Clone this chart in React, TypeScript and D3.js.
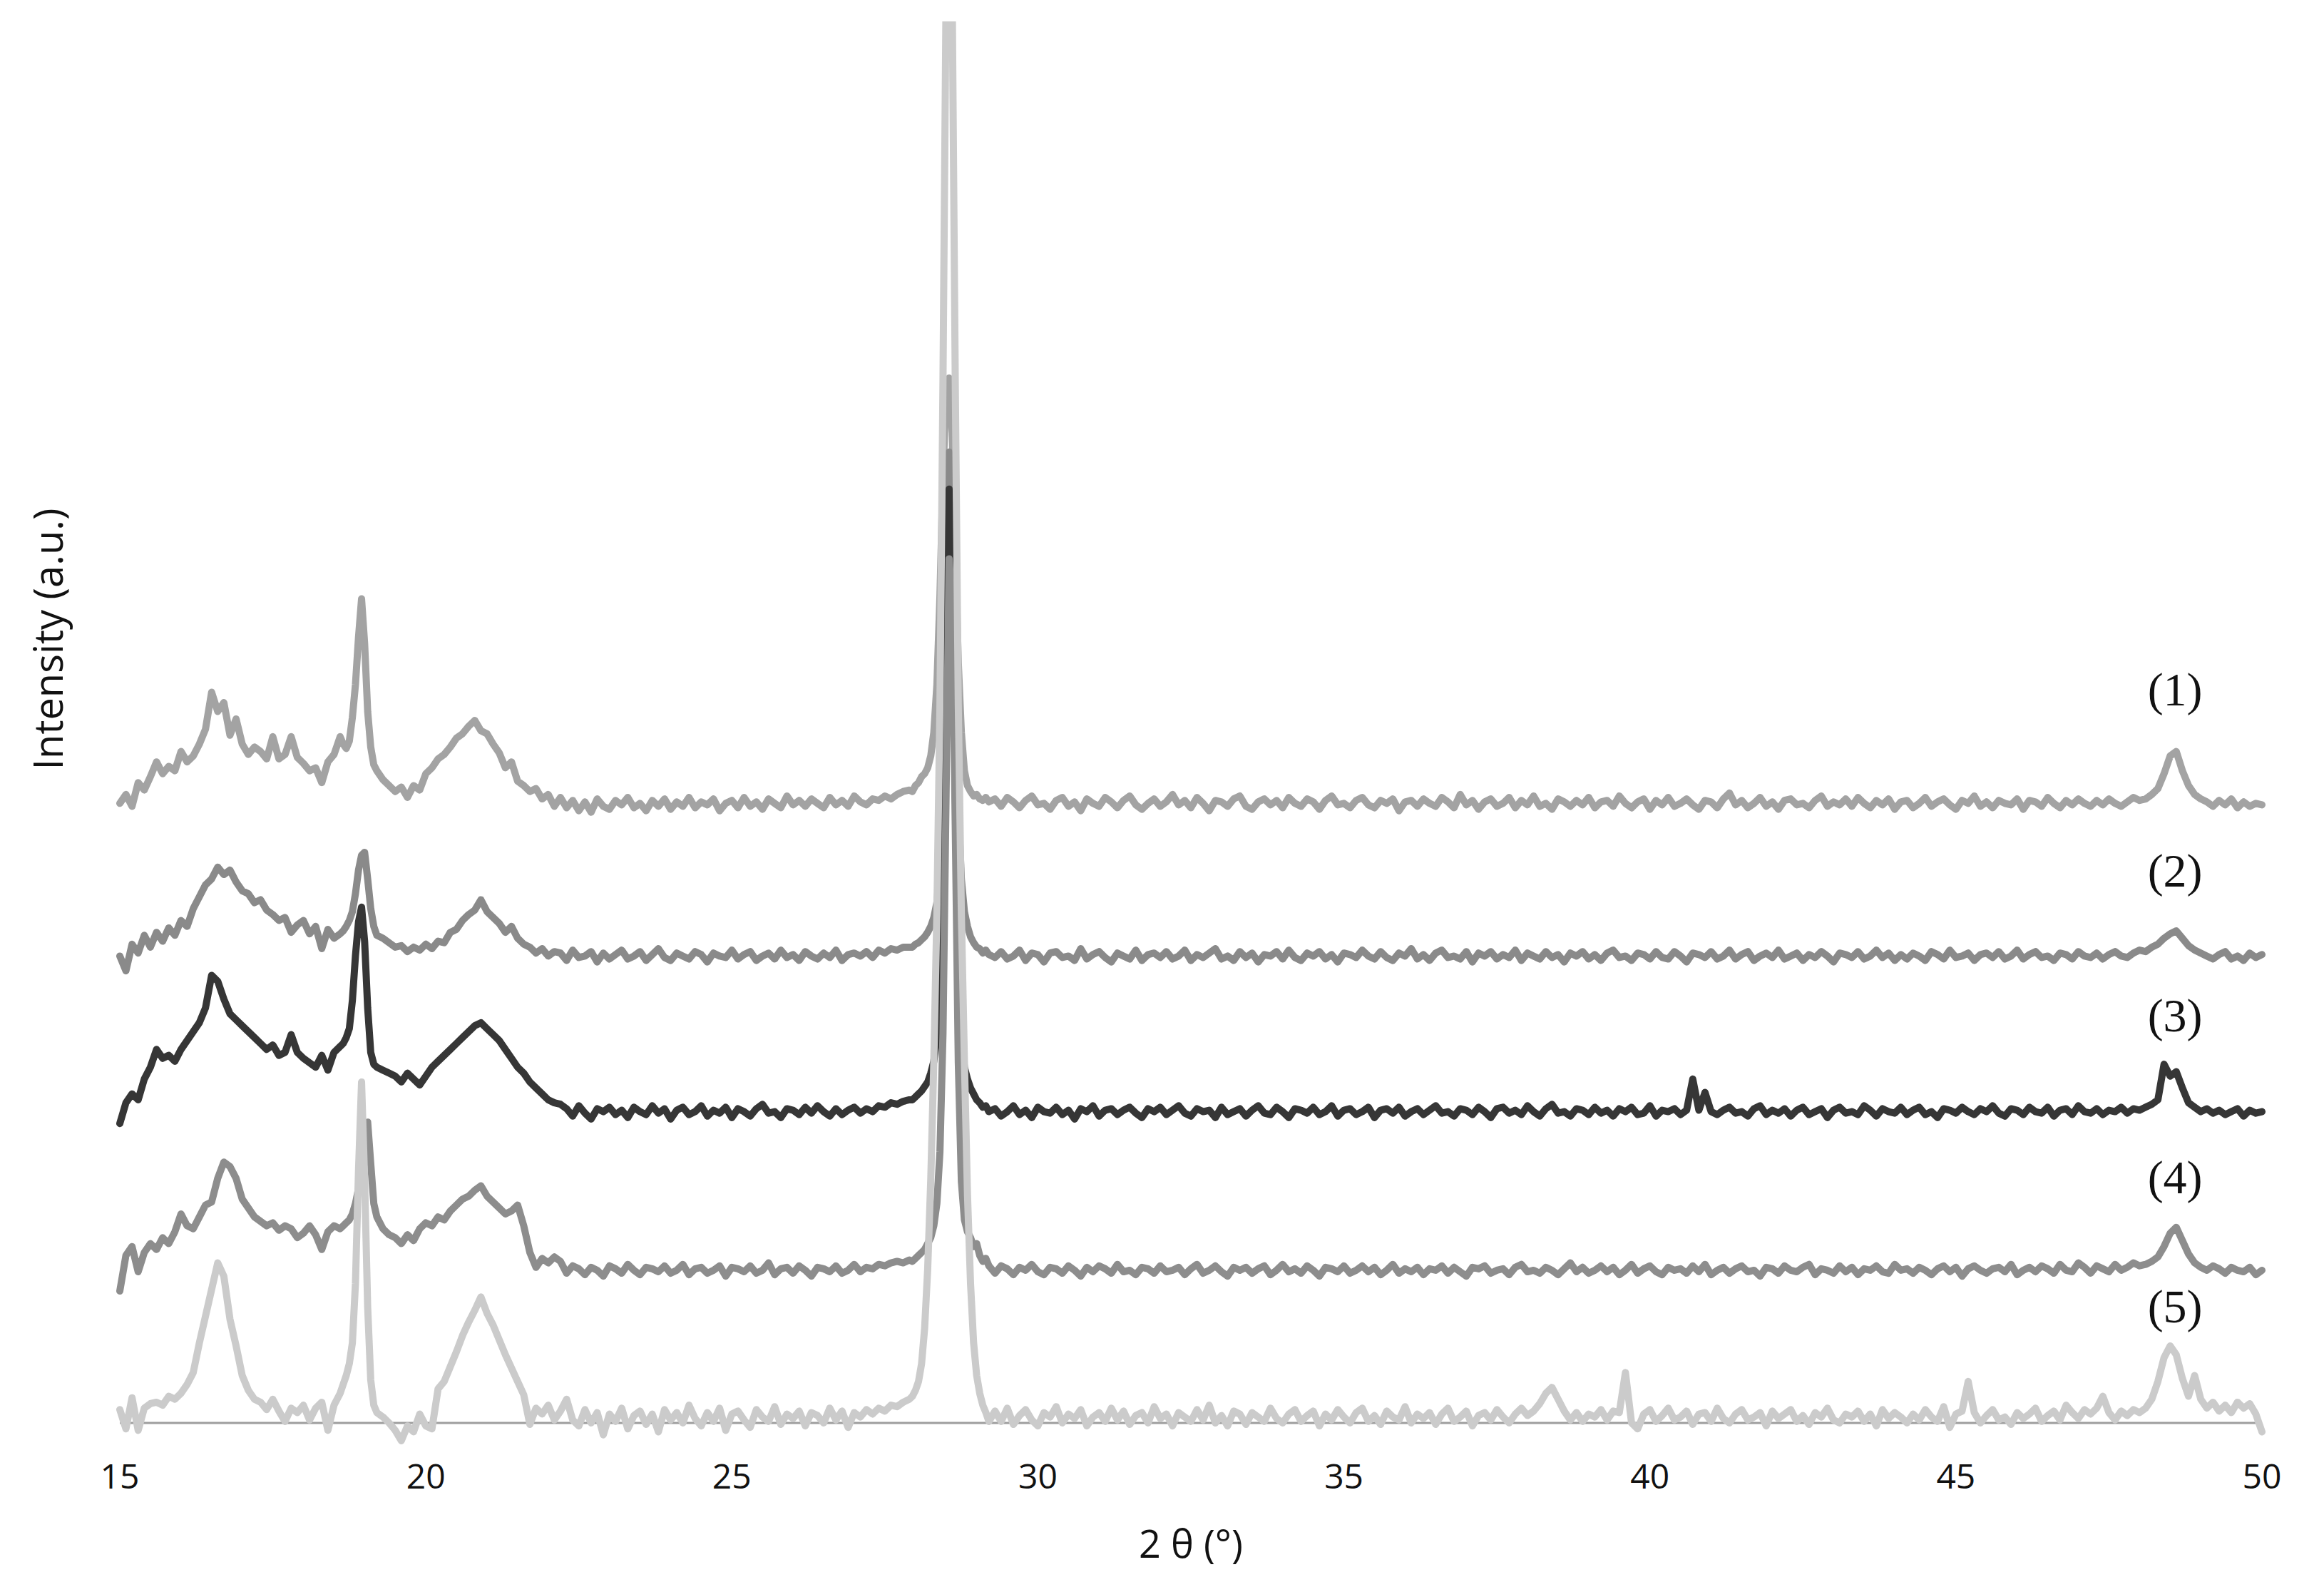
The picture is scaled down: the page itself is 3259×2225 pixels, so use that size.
import React from 'react';
import * as d3 from 'd3';

// ---------- data ----------
const sampleLabels = ['(1)', '(2)', '(3)', '(4)', '(5)'];
const xTicks = [15, 20, 25, 30, 35, 40, 45, 50];
const xDomain: [number, number] = [15, 50];
// 2θ ranges covered by each block of sampled values (values are evenly spaced inside a block)
const segmentRanges: [number, number][] = [
  [15.0, 18.6], [18.65, 19.2], [19.3, 22.1], [22.2, 27.9], [27.95, 29.2], [29.3, 50.0],
];
// vertical offset (a.u.) of each pattern's baseline
const baselines = [418, 315, 210, 103, 4];

const series1: number[][] = [
  [0, 6, -2, 14, 9, 18, 28, 20, 25, 22, 35, 28, 32, 40, 50, 75, 62, 68, 46, 57, 40, 33, 38, 35, 30, 45, 30, 33, 45, 31, 27, 22, 24, 14, 28, 33, 45],
  [40, 37, 42, 58, 80, 112, 138, 108, 62, 38, 26, 22],
  [16, 12, 8, 11, 4, 12, 9, 20, 24, 30, 33, 38, 44, 47, 52, 56, 49, 47, 40, 34, 24, 28, 15, 12, 8, 10, 3, 6, -2],
  [4, -3, 2, -5, 1, -6, 3, -2, -4, 2,
    -1, 4, -3, 0, -5, 2, -2, 3, -4, 1,
    -2, 4, -3, 1, -1, 3, -5, 0, 2, -3,
    4, -2, 1, -4, 3, 0, -3, 5, -1, 2,
    -2, 3, 0, -3, 4, -1, 2, -2, 5, 1,
    -1, 3, 2, 5, 3, 6, 8, 9],
  [8, 12, 14, 18, 20, 24, 32, 48, 80, 140, 220, 280, 287, 250, 170, 95, 48, 22, 12, 8, 5, 6, 3, 2, 4, 1],
  [3, -2, 4, 1, -3, 2, 5, -1, 0, -4,
    2, 4, -2, 1, -5, 3, 0, -2, 4, 1,
    -3, 2, 5, -1, -4, 0, 3, -2, 1, 6,
    -1, 2, -3, 4, 0, -5, 2, 1, -2, 3,
    5, -2, -4, 1, 3, -1, 2, -3, 4, 0,
    -2, 3, 1, -4, 2, 5, -1, 0, -3, 2,
    4, -1, -3, 2, 0, 3, -5, 1, 2, -2,
    3, 0, -2, 4, 1, -3, 6, -1, 2, -4,
    1, 3, -2, 0, 4, -3, 2, -1, 5, -2,
    0, -4, 3, 1, -2, 2, -1, 4, -3, 1,
    2, -2, 5, 0, -3, 1, 3, -4, 2, -1,
    4, -2, 0, 3, -1, -4, 2, 1, -3, 3,
    7, -1, 2, -3, 0, 4, -2, 1, -4, 2,
    3, -1, 0, -3, 2, 5, -2, 1, -1, 3,
    -2, 4, 0, -3, 2, -1, 3, -4, 1, 2,
    -3, 0, 4, -2, 1, 3, -1, -4, 2, 0,
    5, -2, 1, -3, 2, 0, -1, 3, -4, 2,
    1, -2, 4, 0, -3, 2, -1, 3, 0, -2,
    2, -1, 3, 0, -2, 1, 4, 2, 3, 6,
    10, 20, 32, 35, 22, 12, 6, 3, 1, -2,
    2, -1, 3, -3, 1, -2, 0, -1],
];

const series2: number[][] = [
  [0, -10, 8, 2, 14, 6, 16, 10, 19, 14, 24, 20, 32, 40, 48, 52, 60, 55, 58, 50, 44, 42, 36, 38, 31, 28, 24, 26, 16, 21, 24, 15, 20, 5, 18, 12, 15],
  [17, 20, 24, 30, 42, 58, 68, 70, 52, 32, 20, 14],
  [12, 9, 6, 7, 3, 6, 4, 8, 5, 10, 9, 16, 18, 24, 28, 31, 38, 30, 26, 22, 16, 20, 12, 8, 6, 2, 5, 0, 3],
  [2, -3, 4, -1, 0, 3, -4, 2, -2, 1,
    4, -2, 0, 3, -3, 1, 5, -1, -3, 2,
    0, -2, 3, 1, -4, 2, 0, -1, 4, -2,
    1, 3, -3, 0, 2, -2, 4, -1, 1, -3,
    3, 0, -2, 2, -1, 4, -3, 1, 2, 0,
    3, -1, 4, 2, 5, 4, 6, 6],
  [6, 8, 9, 11, 13, 16, 20, 26, 36, 60, 120, 240, 340, 320, 200, 100, 52, 30, 20, 13, 9, 6, 5, 2, 4, 1],
  [-1, 3, -2, 0, 4, -3, 2, 1, -4, 2,
    3, -1, 0, -3, 5, -2, 1, 3, -1, -4,
    2, 0, -2, 4, -3, 1, 2, -1, 3, -2,
    0, 4, -3, 1, -1, 2, 5, -2, 0, -3,
    3, -1, 2, -4, 1, 0, 3, -2, 4, -1,
    -3, 2, 0, 3, -2, 1, -4, 2, 1, -1,
    4, 0, -2, 3, -1, -3, 2, 0, 5, -2,
    1, -3, 2, 4, -1, 0, -2, 3, -4, 2,
    0, 3, -2, 1, -1, 4, -3, 2, 0, -2,
    3, -1, 1, -4, 2, 0, 3, -2, 1, -3,
    2, 4, -1, 0, -3, 2, 1, -2, 3, -1,
    -2, 3, 0, -4, 2, 1, -1, 3, -2, 0,
    4, -2, 1, 3, -3, 0, 2, -1, 4, -2,
    0, 2, -3, 1, -1, 3, 0, -4, 2, 1,
    -1, 3, -2, 0, 4, -1, 2, -3, 1, -2,
    2, 0, -3, 3, 1, -2, 4, -1, 0, 2,
    -3, 1, 2, -1, 3, -2, 0, 4, -2, 1,
    3, -1, 0, -3, 2, 1, -2, 3, 0, -1,
    2, -2, 1, 3, 0, -1, 2, 4, 3, 6,
    8, 12, 15, 17, 12, 7, 4, 2, 0, -2,
    1, 3, -2, 0, -3, 2, -1, 1],
];

const series3: number[][] = [
  [-8, 6, 12, 8, 22, 30, 42, 36, 38, 34, 42, 48, 54, 60, 70, 92, 88, 76, 66, 62, 58, 54, 50, 46, 42, 45, 38, 40, 52, 40, 36, 33, 30, 38, 28, 40, 44],
  [46, 50, 56, 75, 105, 128, 138, 115, 70, 40, 32, 30],
  [28, 26, 24, 20, 26, 22, 18, 24, 30, 34, 38, 42, 46, 50, 54, 58, 60, 56, 52, 48, 42, 36, 30, 26, 20, 16, 12, 8, 6],
  [5, 2, -3, 4, -1, -5, 2, 0, 3, -2,
    1, -4, 3, 0, -2, 4, -1, 2, -5, 1,
    3, -2, 0, 4, -3, 1, -1, 3, -4, 2,
    0, -3, 2, 5, -1, 0, -4, 2, 1, -2,
    3, -1, 4, 0, -3, 2, -2, 1, 3, -1,
    2, 0, 4, 3, 6, 5, 7, 8],
  [8, 10, 12, 14, 17, 20, 26, 34, 50, 90, 170, 300, 420, 380, 240, 110, 50, 30, 22, 16, 12, 8, 6, 3, 4, 0],
  [2, -3, 0, 4, -2, 1, -4, 3, 0, -1,
    3, -2, 1, -5, 2, 0, 4, -3, 1, 2,
    -2, 1, 3, -1, -4, 2, 0, 3, -2, 1,
    4, -1, -3, 2, 0, 1, -4, 3, -2, 0,
    2, -3, 1, 4, -1, -2, 3, 0, -4, 2,
    1, -1, 3, -2, 0, 4, -3, 1, 2, -2,
    0, 3, -4, 1, 2, -1, 3, -3, 0, 2,
    -2, 1, 4, -1, 0, -3, 2, 1, -2, 3,
    0, -4, 2, 3, -1, 1, -2, 4, 0, -3,
    2, 5, -1, 0, -3, 2, 1, -2, 3, -1,
    1, -3, 2, 0, 3, -2, -1, 4, -3, 1,
    0, 2, -2, 1, 22, 1, 13, 0, -2, 1,
    3, -1, 0, -3, 2, 4, -2, 1, -1, 2,
    -3, 1, 3, -2, 0, 2, -4, 1, 3, -1,
    0, -2, 4, 1, -3, 2, 0, -1, 3, -2,
    1, 3, -2, 0, -4, 2, 1, -1, 3, 0,
    -2, 2, 0, 4, -1, -3, 2, 1, -2, 3,
    0, -1, 3, -3, 1, 2, -2, 4, 0, -1,
    2, -2, 1, 0, 3, -1, 2, 1, 3, 5,
    8, 32, 24, 27, 16, 6, 3, 0, 2, -1,
    1, -2, 0, 2, -3, 1, -1, 0],
];

const series4: number[][] = [
  [-14, 10, 16, -1, 12, 18, 14, 22, 18, 26, 38, 30, 28, 36, 44, 46, 62, 73, 70, 62, 48, 42, 36, 33, 30, 32, 27, 30, 28, 22, 25, 30, 24, 14, 26, 30, 28],
  [30, 32, 34, 38, 45, 55, 70, 90, 100, 72, 45, 36],
  [28, 24, 22, 18, 24, 20, 28, 32, 30, 36, 34, 40, 44, 48, 50, 54, 57, 50, 46, 42, 38, 40, 44, 30, 12, 2, 8, 5, 9],
  [6, -2, 3, 1, -3, 2, 0, -4, 3, 1,
    -2, 4, 0, -3, 2, 1, -1, 3, -2, 0,
    4, -3, 1, 2, -2, 0, 3, -4, 2, 1,
    -1, 3, -2, 0, 5, -3, 1, 2, -2, 3,
    0, -4, 2, 1, -1, 3, -2, 0, 4, -1,
    2, 1, 4, 3, 5, 6, 5, 7],
  [6, 8, 10, 12, 14, 18, 22, 30, 45, 80, 160, 320, 480, 450, 300, 140, 60, 34, 26, 22, 16, 18, 10, 6, 8, 3],
  [-2, 3, 1, -3, 2, 0, 4, -1, -3, 2,
    1, -2, 3, 0, -4, 2, -1, 3, 1, -2,
    4, -1, 0, -3, 2, 1, -2, 3, -1, 0,
    2, -3, 1, 4, -2, 0, 3, -1, -4, 2,
    0, 2, -2, 1, 3, -3, 0, 4, -1, 1,
    -2, 3, 0, -4, 2, 1, -1, 3, -2, 0,
    3, -1, 2, -3, 0, 4, -2, 1, -1, 2,
    -3, 1, 0, 3, -2, 2, -1, -4, 2, 1,
    3, -2, 0, 1, -3, 2, 4, -1, 0, -2,
    2, 0, -3, 1, 5, -1, 2, -2, 0, 3,
    -1, 2, -3, 0, 4, -2, 1, 3, -1, -3,
    2, 0, 1, -2, 3, -1, 4, -3, 0, 2,
    -2, 1, 3, -1, 0, -4, 2, 1, -2, 3,
    0, -1, 2, 4, -3, 1, 0, -2, 3, -1,
    2, -3, 1, 0, 3, -1, -2, 4, 0, 1,
    -2, 2, 0, -3, 1, 3, -1, 2, -4, 1,
    3, 0, -2, 1, 2, -1, 4, -3, 0, 2,
    -1, 3, 1, -2, 4, 0, -1, 5, 2, -2,
    3, 1, -1, 4, 0, 2, 5, 3, 4, 6,
    9, 16, 25, 29, 20, 11, 5, 2, 0, 3,
    1, -2, 2, 0, -1, 2, -3, 0],
];

const series5: number[][] = [
  [5, -8, 13, -9, 6, 9, 10, 8, 14, 12, 16, 22, 30, 50, 68, 86, 104, 95, 66, 48, 28, 18, 12, 10, 5, 12, 4, -3, 6, 3, 8, -2, 6, 10, -9, 8, 16],
  [22, 28, 36, 50, 90, 166, 226, 160, 74, 25, 8, 3],
  [0, -4, -9, -16, -6, -10, 2, -6, -8, 19, 24, 34, 44, 55, 64, 72, 81, 70, 62, 52, 42, 33, 24, 15, -5, 6, 2, 8, -2],
  [4, 12, -2, -6, 5, -4, 3, -12, 2, -3,
    6, -8, 1, 4, -5, 2, -10, 5, -2, 3,
    -4, 8, -1, -6, 3, -3, 6, -9, 2, 4,
    -2, -7, 5, 0, -3, 7, -5, 2, -1, 4,
    -6, 3, 1, -4, 6, -2, 4, -7, 3, 0,
    5, 2, 6, 4, 8, 7, 10, 12],
  [14, 18, 24, 36, 60, 100, 160, 240, 340, 480, 700, 960, 1600, 960, 700, 480, 340, 240, 150, 90, 50, 28, 16, 8, 3, -3],
  [4, -3, 6, -5, 1, 5, -2, -6, 3, 0,
    7, -4, 2, -1, 5, -6, 0, 3, -3, 6,
    -2, 4, -5, 1, 3, -4, 7, -1, 2, -6,
    3, 0, -3, 5, -2, 8, -4, 1, -6, 4,
    2, -5, 3, 0, -3, 6, -1, -4, 2, 5,
    -3, 1, 4, -6, 2, -2, 5, 0, -4, 3,
    6, -3, 1, -5, 4, 0, -2, 7, -4, 2,
    -1, 3, -5, 2, 6, -3, 0, 4, -6, 1,
    3, -2, 5, 0, -4, 2, 6, 1, 4, 9,
    16, 20, 12, 4, -2, 3, -3, 2, 0, 5,
    -2, 4, 3, 30, -4, -8, 2, 5, -3, 1,
    6, -2, 0, 4, -5, 2, 3, -3, 6, -1,
    -4, 2, 5, -2, 0, 3, -6, 4, -1, 2,
    5, -3, 1, -5, 3, 0, 6, -2, -4, 2,
    0, 4, -3, 2, -6, 5, -1, 3, 0, -4,
    2, -2, 5, 0, -3, 7, -7, 2, 4, 24,
    3, -4, 1, 5, -2, 0, -5, 3, -1, 2,
    6, -3, 1, 4, -2, 8, 3, -1, 5, 2,
    6, 14, 3, -2, 4, 1, 5, 3, 6, 12,
    24, 40, 48, 42, 26, 14, 28, 12, 6, 10,
    4, 8, 3, 10, 6, 9, 2, -10],
];

const allSeries = [series1, series2, series3, series4, series5];

// ---------- layout / style ----------
const W = 3259;
const H = 2225;
const colors = ['#a3a3a3', '#8a8a8a', '#363636', '#8d8d8d', '#cbcbcb'];
const labelValue = [484, 362, 264, 155, 68];
const fontSans = '"Open Sans", "Noto Sans", sans-serif';

function toPoints(blocks: number[][], base: number): [number, number][] {
  const pts: [number, number][] = [];
  blocks.forEach((vals, si) => {
    const [x0, x1] = segmentRanges[si];
    const n = vals.length;
    vals.forEach((v, i) => {
      const x = n === 1 ? x0 : x0 + ((x1 - x0) * i) / (n - 1);
      pts.push([x, base + v]);
    });
  });
  return pts;
}

export default function App() {
  const xScale = d3.scaleLinear().domain(xDomain).range([168, 3172]);
  const yScale = d3.scaleLinear().domain([0, 960]).range([1995, 0]);
  const line = d3
    .line<[number, number]>()
    .x((d) => xScale(d[0]))
    .y((d) => yScale(d[1]));

  return (
    <svg
      width={W}
      height={H}
      viewBox={`0 0 ${W} ${H}`}
      style={{ position: 'absolute', left: 0, top: 0, background: '#fff' }}
    >
      <defs>
        <clipPath id="plotClip">
          <rect x={0} y={30} width={W} height={H - 30} />
        </clipPath>
      </defs>
      <rect x={0} y={0} width={W} height={H} fill="#fff" />

      {/* x axis line */}
      <line
        x1={xScale(xDomain[0])}
        x2={xScale(xDomain[1])}
        y1={yScale(0)}
        y2={yScale(0)}
        stroke="#9e9e9e"
        strokeWidth={3}
      />

      <g clipPath="url(#plotClip)">
        {allSeries.map((s, i) => (
          <path
            key={i}
            d={line(toPoints(s, baselines[i])) || ''}
            fill="none"
            stroke={colors[i]}
            strokeWidth={10}
            strokeLinejoin="round"
            strokeLinecap="round"
          />
        ))}
      </g>

      {/* tick labels */}
      {xTicks.map((t) => (
        <text
          key={t}
          x={xScale(t)}
          y={2087}
          textAnchor="middle"
          fontFamily={fontSans}
          fontSize={48}
          fill="#111"
        >
          {t}
        </text>
      ))}

      {/* axis titles */}
      <text
        x={(xScale(xDomain[0]) + xScale(xDomain[1])) / 2}
        y={2184}
        textAnchor="middle"
        fontFamily={fontSans}
        fontSize={54}
        fill="#111"
      >
        2 θ (°)
      </text>
      <text
        transform={`translate(88, 896) rotate(-90)`}
        textAnchor="middle"
        fontFamily={fontSans}
        fontSize={56}
        fill="#111"
      >
        Intensity (a.u.)
      </text>

      {/* sample labels */}
      {sampleLabels.map((lab, i) => (
        <text
          key={lab}
          x={xScale(48.58)}
          y={yScale(labelValue[i])}
          textAnchor="middle"
          fontFamily={'"Liberation Serif", "Times New Roman", serif'}
          fontSize={66}
          fill="#111"
        >
          {lab}
        </text>
      ))}
    </svg>
  );
}
